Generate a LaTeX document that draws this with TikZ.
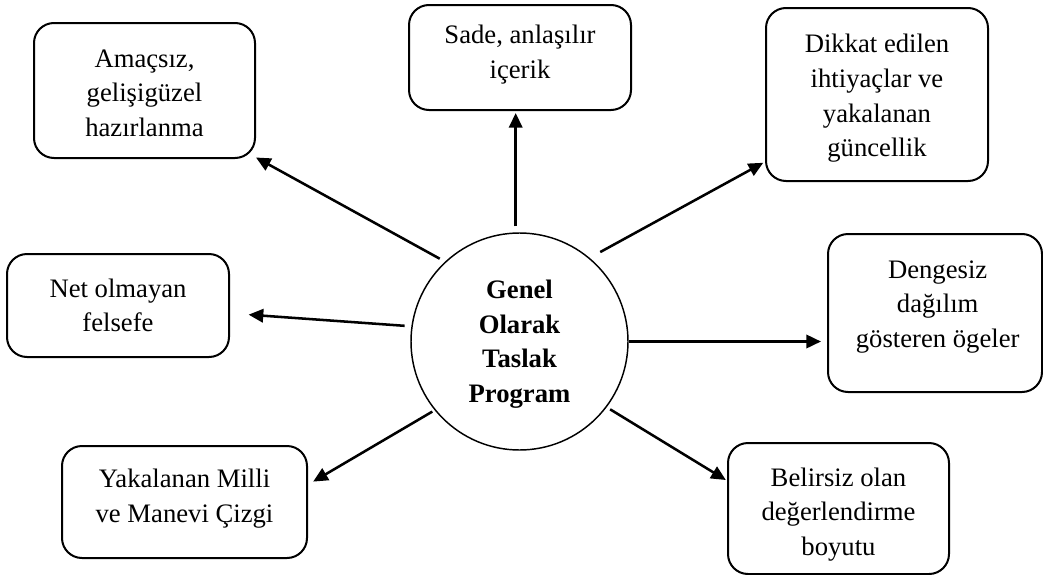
\documentclass[tikz,border=0pt]{standalone}
\usepackage{fontspec}
\setmainfont{Liberation Serif}
\usetikzlibrary{arrows.meta}
\tikzset{
  box/.style={draw, line width=1.5pt, rounded corners=15pt, inner sep=0pt},
  boxtext/.style={align=center, inner sep=0pt, font=\fontsize{20pt}{26pt}\selectfont},
  hub/.style={draw, circle, line width=1.1pt, inner sep=0pt},
  hubtext/.style={align=center, inner sep=0pt, font=\fontsize{20pt}{26pt}\selectfont\bfseries},
  arr/.style={line width=1.9pt, -{Triangle[length=11pt,width=10pt]}},
}
\begin{document}
\begin{tikzpicture}[x=0.75pt,y=-0.75pt]
\useasboundingbox (0,0) rectangle (1043,575);
\node[hub, minimum size=162.75pt] (c) at (519.5,341.5) {};
\node[hubtext, yshift=-1.9pt] (ct) at (c) {Genel\\Olarak\\Taslak\\Program};
\node[box, minimum width=165.75pt, minimum height=101.25pt] (b1) at (144.5,90.5) {};
\node[boxtext, yshift=-1.9pt] (t1) at (b1) {Amaçsız,\\gelişigüzel\\hazırlanma};
\node[box, minimum width=166.5pt, minimum height=78.75pt] (b2) at (520,57.5) {};
\node[boxtext, yshift=2.25pt] (t2) at (b2) {Sade, anlaşılır\\içerik};
\node[box, minimum width=166.5pt, minimum height=129.75pt] (b3) at (877,94.5) {};
\node[boxtext, yshift=-3pt] (t3) at (b3) {Dikkat edilen\\ihtiyaçlar ve\\yakalanan\\güncellik};
\node[box, minimum width=166.5pt, minimum height=77.25pt] (b4) at (118,305.5) {};
\node[boxtext] (t4) at (b4) {Net olmayan\\felsefe};
\node[box, minimum width=160.5pt, minimum height=118.5pt] (b5) at (935,313) {};
\node[boxtext, yshift=4.5pt, xshift=2pt] (t5) at (b5) {Dengesiz\\dağılım\\gösteren ögeler};
\node[box, minimum width=183.75pt, minimum height=84pt] (b6) at (184.5,502) {};
\node[boxtext, yshift=2.7pt] (t6) at (b6) {Yakalanan Milli\\ve Manevi Çizgi};
\node[box, minimum width=165.75pt, minimum height=98.25pt] (b7) at (838.5,508.5) {};
\node[boxtext, yshift=-4.5pt] (t7) at (b7) {Belirsiz olan\\değerlendirme\\boyutu};
\draw[arr, shorten <=4.5pt, shorten >=1.5pt] (c.92) -- (c.92 |- b2.south);
\draw[arr, shorten <=4.5pt] (c.133) -- (b1.-31);
\draw[arr, shorten <=9pt, shorten >=1.5pt] (c.50) -- (b3.211);
\draw[arr, shorten <=5pt, shorten >=14pt] (c.172.5) -- (b4.-4);
\draw[arr, shorten >=4.5pt] (c.east) -- (c.east -| b5.west);
\draw[arr, shorten <=2pt, shorten >=4.5pt] (c.219) -- (b6.8);
\draw[arr, shorten <=3pt, shorten >=1pt] (c.-37) -- (b7.166);
\end{tikzpicture}
\end{document}
